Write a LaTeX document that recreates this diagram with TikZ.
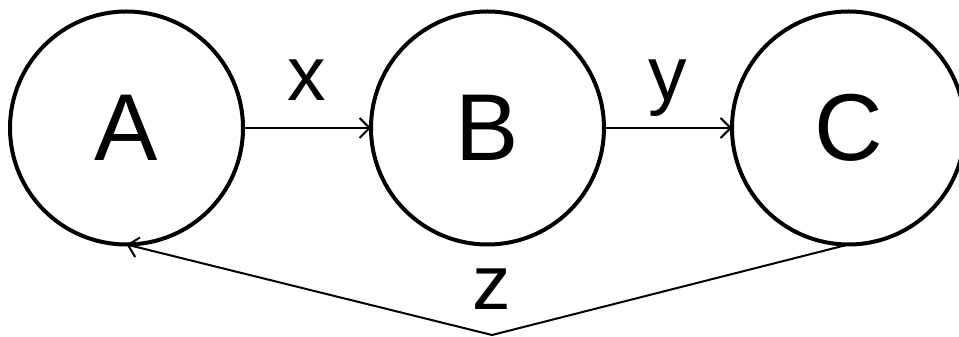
\documentclass[tikz,border=0pt]{standalone}
\usepackage{fontspec}
\setmainfont{Liberation Sans}
\usepackage{tikz}
\usetikzlibrary{arrows,arrows.meta,shapes,positioning}

\begin{document}
\begin{tikzpicture}[x=1pt,y=1pt,very thick, node distance=128pt,
  state/.style={draw, circle, line width=4pt, outer sep=0pt, minimum size=233pt, inner sep=0pt,
    font=\fontsize{95}{95}\selectfont},
  edgetext/.style={inner sep=0pt, text depth=0pt, font=\fontsize{77}{77}\selectfont},
  link/.style={line width=2pt, -{Straight Barb[length=10pt, width=20pt]}}]
  \useasboundingbox (0,0) rectangle (959,337);

  \node[state] (A) at (126.5,209) {A};
  \node[state, right=of A] (B) {B};
  \node[state, right=of B] (C) {C};
  \coordinate (bottom) at (492,2);

  \draw[link] (A.east) -- node[midway, edgetext, above=26pt] {x} (B.west);
  \draw[link] (B.east) -- node[midway, edgetext, above=26pt] {y} (C.west);
  \draw[link] (C.south) -- (bottom) -- (A.south);
  \node[edgetext, above=25pt of bottom] (zlabel) {z};
\end{tikzpicture}
\end{document}
